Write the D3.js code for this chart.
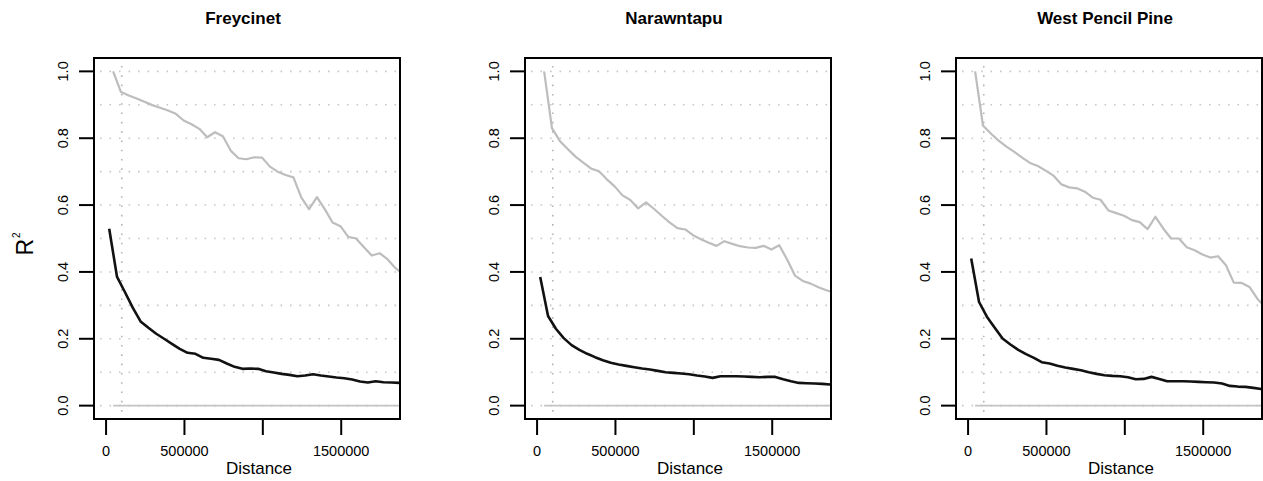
<!DOCTYPE html>
<html>
<head>
<meta charset="utf-8">
<script src="https://cdn.jsdelivr.net/npm/d3@7"></script>
<style>
    body { margin: 0; background: #fff; }
    svg text { font-family: "Liberation Sans", Arial, sans-serif; fill: #000; }
</style>
</head>
<body>
<div id="chart"></div>
<script>

// ---- data ----
let sites = ["Freycinet", "Narawntapu", "West Pencil Pine"];

let distGray = [45000, 95000, 145000, 195000, 245000, 295000, 345000, 395000, 445000, 495000,
    545000, 595000, 645000, 695000, 745000, 795000, 845000, 895000, 945000, 995000,
    1045000, 1095000, 1145000, 1195000, 1245000, 1295000, 1345000, 1395000, 1445000, 1495000,
    1545000, 1595000, 1645000, 1695000, 1745000, 1795000, 1845000, 1895000];

let distBlack = [20000, 70000, 120000, 170000, 220000, 270000, 320000, 370000, 420000, 470000,
    520000, 570000, 620000, 670000, 720000, 770000, 820000, 870000, 920000, 970000,
    1020000, 1070000, 1120000, 1170000, 1220000, 1270000, 1320000, 1370000, 1420000, 1470000,
    1520000, 1570000, 1620000, 1670000, 1720000, 1770000, 1820000, 1870000];

let freyGray = [1.0, 0.938, 0.928, 0.919, 0.909, 0.899, 0.891, 0.883, 0.873, 0.853, 0.842, 0.828, 0.803,
    0.818, 0.806, 0.763, 0.740, 0.737, 0.743, 0.742, 0.715, 0.700, 0.690, 0.683, 0.623, 0.588, 0.624,
    0.588, 0.548, 0.537, 0.505, 0.500, 0.474, 0.449, 0.456, 0.438, 0.412, 0.392];
let freyBlack = [0.529, 0.385, 0.340, 0.293, 0.252, 0.233, 0.215, 0.200, 0.185, 0.170, 0.158, 0.155, 0.143,
    0.140, 0.137, 0.126, 0.116, 0.110, 0.111, 0.110, 0.103, 0.099, 0.095, 0.092, 0.088, 0.090, 0.094,
    0.090, 0.087, 0.084, 0.082, 0.078, 0.072, 0.069, 0.073, 0.070, 0.069, 0.068];

let narGray = [1.0, 0.830, 0.792, 0.768, 0.745, 0.727, 0.709, 0.701, 0.677, 0.656, 0.629, 0.615, 0.590,
    0.608, 0.589, 0.568, 0.548, 0.531, 0.527, 0.510, 0.498, 0.487, 0.478, 0.492, 0.484, 0.477, 0.473,
    0.472, 0.478, 0.467, 0.480, 0.437, 0.389, 0.373, 0.365, 0.354, 0.345, 0.338];
let narBlack = [0.385, 0.268, 0.230, 0.202, 0.181, 0.167, 0.155, 0.145, 0.136, 0.128, 0.123, 0.119, 0.115,
    0.111, 0.108, 0.104, 0.100, 0.098, 0.096, 0.094, 0.090, 0.087, 0.083, 0.088, 0.088, 0.088, 0.087,
    0.086, 0.085, 0.086, 0.086, 0.079, 0.073, 0.068, 0.067, 0.066, 0.065, 0.063];

let wppGray = [1.0, 0.838, 0.814, 0.793, 0.775, 0.759, 0.742, 0.726, 0.717, 0.703, 0.688, 0.662, 0.653,
    0.650, 0.640, 0.622, 0.616, 0.584, 0.576, 0.568, 0.555, 0.549, 0.528, 0.565, 0.530, 0.500, 0.500,
    0.474, 0.465, 0.452, 0.443, 0.447, 0.420, 0.368, 0.367, 0.355, 0.320, 0.295];
let wppBlack = [0.440, 0.310, 0.266, 0.233, 0.201, 0.183, 0.167, 0.154, 0.143, 0.130, 0.126, 0.119, 0.114,
    0.110, 0.106, 0.100, 0.095, 0.091, 0.089, 0.088, 0.085, 0.079, 0.080, 0.086, 0.080, 0.073, 0.073,
    0.073, 0.072, 0.071, 0.070, 0.069, 0.066, 0.059, 0.057, 0.056, 0.053, 0.050];

let grayValues = [freyGray, narGray, wppGray];
let blackValues = [freyBlack, narBlack, wppBlack];

let xTicks = [0, 500000, 1000000, 1500000];
let xTickLabels = ["0", "500000", "", "1500000"];
let yTicks = [0, 0.2, 0.4, 0.6, 0.8, 1.0];
let yGrid = [0, 0.1, 0.2, 0.3, 0.4, 0.5, 0.6, 0.7, 0.8, 0.9, 1.0];
let cutoff = 100000;
let baselineStart = 45000;


// ---- drawing ----
let svg = d3.select("#chart").append("svg")
    .attr("width", 1263)
    .attr("height", 481);

let panelW = 306, panelH = 361, panelTop = 58;
let lefts = [94, 525, 956];

let x = d3.scaleLinear().domain([-77000, 1875000]).range([0, panelW]);
let y = d3.scaleLinear().domain([-0.04, 1.04]).range([panelH, 0]);

// y axis title, shared
let rLab = svg.append("text")
    .attr("transform", "translate(33,244) rotate(-90)")
    .attr("text-anchor", "middle")
    .style("font-size", "23px");
rLab.append("tspan").text("R");
rLab.append("tspan").attr("dy", -13).attr("dx", 1).style("font-size", "10px").text("2");

sites.forEach((site, i) => {
    let g = svg.append("g").attr("transform", `translate(${lefts[i]}, ${panelTop})`);

    g.append("clipPath").attr("id", "clip" + i)
        .append("rect").attr("width", panelW).attr("height", panelH);

    // title
    g.append("text")
        .attr("x", panelW / 2 - 4)
        .attr("y", -34)
        .attr("text-anchor", "middle")
        .style("font-size", "17px")
        .style("font-weight", "bold")
        .text(site);

    let plot = g.append("g").attr("clip-path", `url(#clip${i})`);

    // dotted grid
    plot.selectAll(".hgrid").data(yGrid).enter().append("line")
        .attr("class", "hgrid")
        .attr("x1", 0).attr("x2", panelW)
        .attr("y1", d => y(d)).attr("y2", d => y(d))
        .attr("stroke", "#c8c8c8")
        .attr("stroke-width", 1.6)
        .attr("stroke-dasharray", "1.6,7.9")
        .attr("stroke-dashoffset", -6);

    plot.append("line")
        .attr("x1", x(cutoff)).attr("x2", x(cutoff))
        .attr("y1", 0).attr("y2", panelH)
        .attr("stroke", "#b4b4b4")
        .attr("stroke-width", 1.6)
        .attr("stroke-dasharray", "1.6,7.7")
        .attr("stroke-dashoffset", -8);

    // zero line
    plot.append("line")
        .attr("x1", x(baselineStart)).attr("x2", panelW)
        .attr("y1", y(0)).attr("y2", y(0))
        .attr("stroke", "#c4c4c4")
        .attr("stroke-width", 1.8);

    let line = d3.line().x(d => x(d[0])).y(d => y(d[1]));

    plot.append("path")
        .datum(distGray.map((d, k) => [d, grayValues[i][k]]))
        .attr("d", line)
        .attr("fill", "none")
        .attr("stroke", "#bdbdbd")
        .attr("stroke-width", 2.2)
        .attr("stroke-linejoin", "round");

    plot.append("path")
        .datum(distBlack.map((d, k) => [d, blackValues[i][k]]))
        .attr("d", line)
        .attr("fill", "none")
        .attr("stroke", "#111")
        .attr("stroke-width", 2.6)
        .attr("stroke-linejoin", "round");

    // box
    g.append("rect")
        .attr("width", panelW).attr("height", panelH)
        .attr("fill", "none")
        .attr("stroke", "#000")
        .attr("stroke-width", 2);

    // y axis
    let ya = g.append("g");
    ya.selectAll("line").data(yTicks).enter().append("line")
        .attr("x1", -15).attr("x2", 0)
        .attr("y1", d => y(d)).attr("y2", d => y(d))
        .attr("stroke", "#000").attr("stroke-width", 2);
    ya.selectAll("text").data(yTicks).enter().append("text")
        .attr("transform", d => `translate(-26, ${y(d)}) rotate(-90)`)
        .attr("text-anchor", "middle")
        .style("font-size", "14.5px")
        .text(d => d.toFixed(1));

    // x axis
    let xa = g.append("g").attr("transform", `translate(0, ${panelH})`);
    xa.selectAll("line").data(xTicks).enter().append("line")
        .attr("x1", d => x(d)).attr("x2", d => x(d))
        .attr("y1", 0).attr("y2", 16)
        .attr("stroke", "#000").attr("stroke-width", 2);
    xa.selectAll("text").data(xTicks).enter().append("text")
        .attr("x", d => x(d))
        .attr("y", 37)
        .attr("text-anchor", "middle")
        .style("font-size", "14.5px")
        .text((d, k) => xTickLabels[k]);

    g.append("text")
        .attr("x", panelW / 2 + 12)
        .attr("y", panelH + 55)
        .attr("text-anchor", "middle")
        .style("font-size", "17px")
        .text("Distance");
});

</script>
</body>
</html>
